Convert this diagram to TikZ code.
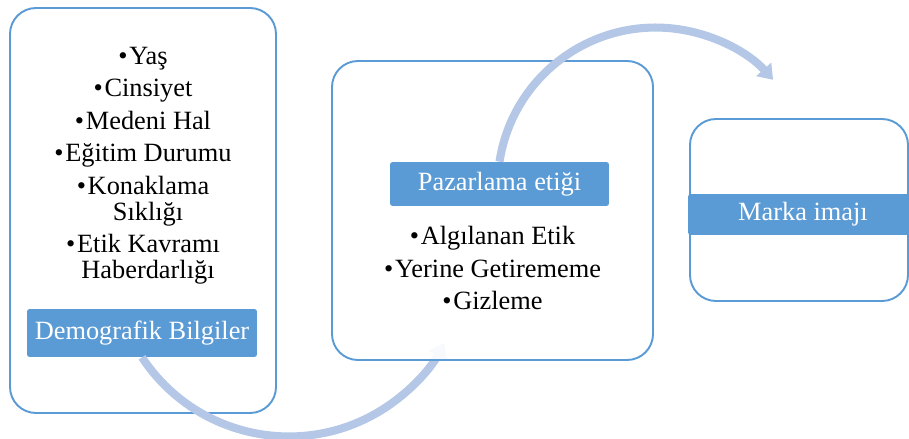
\documentclass[tikz,border=0pt]{standalone}
\usepackage{fontspec}
\setmainfont{Liberation Serif}
\usetikzlibrary{arrows.meta}
\definecolor{boxblue}{RGB}{91,155,213}
\definecolor{arcblue}{RGB}{180,199,231}
\newcommand{\bul}{\textbullet\kern1pt}

\begin{document}
\begin{tikzpicture}[x=0.02cm, y=-0.02cm,
    panel/.style={draw=boxblue, line width=1.1pt, rounded corners=0.52cm, fill=white},
    tag/.style={fill=boxblue, rounded corners=1.5pt, text=white, inner sep=0pt,
                font=\fontsize{15}{18}\selectfont},
    items/.style={align=center, anchor=north, inner sep=0pt,
                  font=\fontsize{15}{14.8}\selectfont},
    flow/.style={draw=arcblue, line width=4.6pt, -{Triangle[width=11pt,length=8pt]}}]

    \useasboundingbox (0,0) rectangle (909,439);

    % demographic block
    \draw [panel] (10,8) rectangle (276,413);
    \node [items] (demolist) at (143,46.5) {\bul Yaş\\[3.7pt]
        \bul Cinsiyet\\[3.7pt]
        \bul Medeni Hal\\[3.7pt]
        \bul Eğitim Durumu\\[3.7pt]
        \bul Konaklama\\
        \hspace*{0.2cm}Sıklığı\\[3.7pt]
        \bul Etik Kavramı\\
        \hspace*{0.2cm}Haberdarlığı};
    \node [tag, minimum width=4.6cm, minimum height=0.96cm] (demo) at (142,333) {Demografik Bilgiler};

    % lower arc
    \draw [flow] (demo.south) arc [start angle=146.6, end angle=28, radius=176];

    % ethics block
    \draw [panel, fill opacity=0.9] (332,61) rectangle (653,360);
    \node [tag, minimum width=4.38cm, minimum height=0.88cm] (paz) at (499.5,184) {Pazarlama etiği};
    \node [items] (pazlist) at (492.5,226) {\bul Algılanan Etik\\[3.7pt]
        \bul Yerine Getirememe\\[3.7pt]
        \bul Gizleme};

    % upper arc
    \draw [flow] (paz.north) arc [start angle=-171.3, end angle=-42, radius=158];

    % brand block
    \draw [panel] (690,119) rectangle (908,301);
    \node [tag, minimum width=4.6cm, minimum height=0.82cm] (marka) at (803,214.5) {Marka imajı};
\end{tikzpicture}
\end{document}
